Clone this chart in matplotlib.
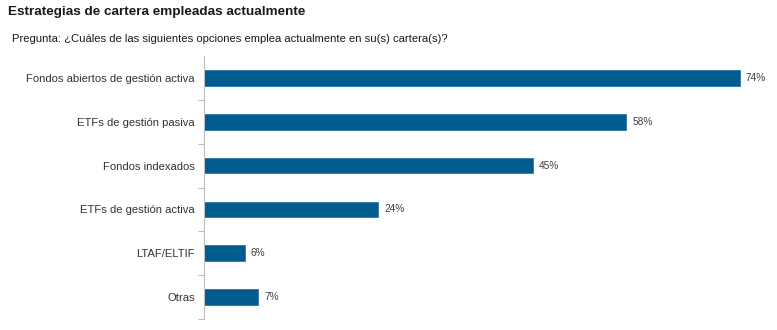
import matplotlib
matplotlib.use("Agg")
import matplotlib.pyplot as plt

categories = ["Fondos abiertos de gestión activa", "ETFs de gestión pasiva", "Fondos indexados",
              "ETFs de gestión activa", "LTAF/ELTIF", "Otras"]
values = [74.0, 58.3, 45.4, 24.1, 5.6, 7.5]
value_labels = ["74%", "58%", "45%", "24%", "6%", "7%"]

plt.rcParams['font.family'] = ['Liberation Sans', 'DejaVu Sans']

W, H = 777, 330
fig = plt.figure(figsize=(W/100, H/100), dpi=100)
x0, x1 = 204, 777
ytop, ybot = 56, 319
ax = fig.add_axes([x0/W, 1-ybot/H, (x1-x0)/W, (ybot-ytop)/H])

color = "#005b8f"
n = len(categories)
pos = list(range(n))
ax.barh(pos, values, height=0.36, color=color, edgecolor="#2a7aa8", linewidth=0.6)
ax.set_ylim(n-0.5, -0.5)
ax.set_xlim(0, (x1-x0)/7.24)

for p, v, lab in zip(pos, values, value_labels):
    ax.text(v + 0.85, p, lab, va="center", ha="left", fontsize=7.3, color="#404040")

ax.set_yticks(pos)
ax.set_yticklabels(categories, fontsize=8.1, color="#333333")
ax.tick_params(axis="y", which="major", length=0, pad=6.5)
ax.set_yticks([i + 0.5 for i in range(n)], minor=True)
ax.tick_params(axis="y", which="minor", length=4, color="#bfbfbf", width=0.8)
ax.set_xticks([])
for s in ["top", "right", "bottom"]:
    ax.spines[s].set_visible(False)
ax.spines["left"].set_color("#bfbfbf")
ax.spines["left"].set_linewidth(0.8)

fig.text(8/W, 1-12/H, "Estrategias de cartera empleadas actualmente", fontsize=9.7,
         fontweight="bold", color="#1a1a1a", va="center", ha="left")
fig.text(12/W, 1-39/H, "Pregunta: ¿Cuáles de las siguientes opciones emplea actualmente en su(s) cartera(s)?",
         fontsize=8.15, color="#1a1a1a", va="center", ha="left")

fig.savefig("out.png", dpi=100)
